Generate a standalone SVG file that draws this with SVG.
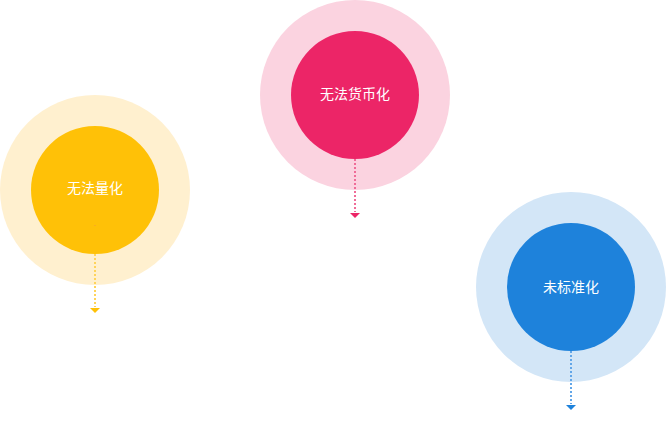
<svg xmlns="http://www.w3.org/2000/svg" width="666" height="438" viewBox="0 0 666 438">
<style>
.lbl{font-family:"Noto Sans CJK SC","Noto Sans",sans-serif;font-size:14px;fill:#ffffff;text-anchor:middle}
.dot{fill:none;stroke-width:2;stroke-dasharray:2 2}
</style>
<rect width="666" height="438" fill="#ffffff"/>
<g id="node-yellow">
<circle cx="95" cy="190" r="95" fill="#FFF0CF"/>
<circle cx="95" cy="190" r="64" fill="#FFC107"/>
<rect x="94" y="225" width="2" height="1" fill="#F5A030" opacity="0.6"/>
<text class="lbl" x="95" y="192.5">无法量化</text>
</g>
<g id="node-pink">
<circle cx="355" cy="95" r="95" fill="#FBD3E0"/>
<circle cx="355" cy="95" r="64" fill="#EC2567"/>
<text class="lbl" x="355" y="98.5">无法货币化</text>
</g>
<g id="node-blue">
<circle cx="571" cy="287" r="95" fill="#D3E6F7"/>
<circle cx="571" cy="287" r="64" fill="#1E82DB"/>
<text class="lbl" x="571" y="291.5">未标准化</text>
</g>
<g id="connectors">
<line class="dot" x1="95" y1="254" x2="95" y2="307" stroke="#FFD45A"/>
<polygon points="90,308 100,308 95,313" fill="#FFC107"/>
<line class="dot" x1="355" y1="159" x2="355" y2="212" stroke="#F06C98"/>
<polygon points="350,213 360,213 355,218" fill="#EC2567"/>
<line class="dot" x1="571" y1="351" x2="571" y2="404" stroke="#62A6E8"/>
<polygon points="566,405 576,405 571,410" fill="#1E82DB"/>
</g>
</svg>
